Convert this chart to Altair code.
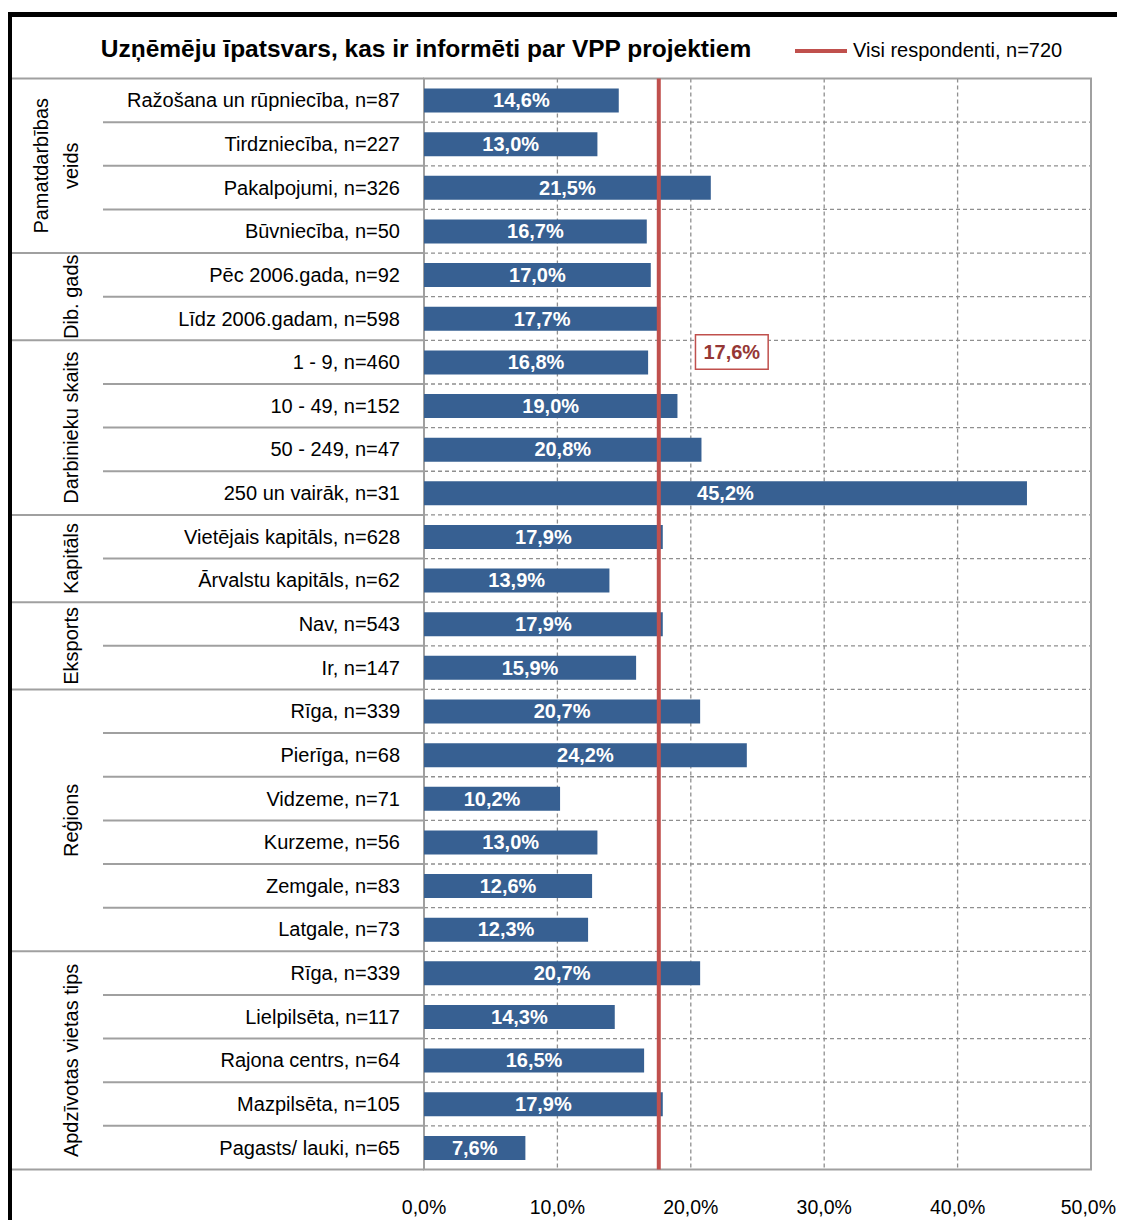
import altair as alt
import pandas as pd

title_text = "Uzņēmēju īpatsvars, kas ir informēti par VPP projektiem"
legend_text = "Visi respondenti, n=720"

groups = ["Pamatdarbības\nveids", "Dib. gads", "Darbinieku skaits", "Kapitāls",
          "Eksports", "Reģions", "Apdzīvotas vietas tips"]
group_sizes = [4, 2, 4, 2, 2, 6, 5]

categories = [
    "Ražošana un rūpniecība, n=87", "Tirdzniecība, n=227", "Pakalpojumi, n=326",
    "Būvniecība, n=50", "Pēc 2006.gada, n=92", "Līdz 2006.gadam, n=598",
    "1 - 9, n=460", "10 - 49, n=152", "50 - 249, n=47", "250 un vairāk, n=31",
    "Vietējais kapitāls, n=628", "Ārvalstu kapitāls, n=62", "Nav, n=543",
    "Ir, n=147", "Rīga, n=339", "Pierīga, n=68", "Vidzeme, n=71",
    "Kurzeme, n=56", "Zemgale, n=83", "Latgale, n=73", "Rīga, n=339",
    "Lielpilsēta, n=117", "Rajona centrs, n=64", "Mazpilsēta, n=105",
    "Pagasts/ lauki, n=65",
]
values = [14.6, 13.0, 21.5, 16.7, 17.0, 17.7, 16.8, 19.0, 20.8, 45.2, 17.9, 13.9,
          17.9, 15.9, 20.7, 24.2, 10.2, 13.0, 12.6, 12.3, 20.7, 14.3, 16.5, 17.9, 7.6]
average = 17.6
x_ticks = [0, 10, 20, 30, 40, 50]

FONT = "Liberation Sans, Arial, sans-serif"
BAR = "#376092"
RED = "#C0504D"
GRID = "#8f8f8f"
LINE = "#a0a0a0"

n = len(categories)
W, H = 1109, 1212
xs = alt.Scale(domain=[0, 50], range=[416, 1083], nice=False, zero=False)
ys = alt.Scale(domain=[0, n], range=[70.5, 70.5 + n * 43.64], nice=False, zero=False)


def X(f):
    return alt.X(f, type="quantitative", scale=xs, axis=None)


def Y(f):
    return alt.Y(f, type="quantitative", scale=ys, axis=None)


rows = pd.DataFrame({"row": list(range(n)), "category": categories, "value": values})

starts = []
s = 0
for g in group_sizes:
    starts.append(s)
    s += g
gdf = pd.DataFrame({"group": groups, "start": starts, "size": group_sizes})
group_bounds = starts + [n]
inner_bounds = [b for b in range(1, n) if b not in group_bounds]

ticks_df = pd.DataFrame({"v": x_ticks})
bounds_df = pd.DataFrame({"b": list(range(1, n))})
inner_df = pd.DataFrame({"b": inner_bounds})
gb_df = pd.DataFrame({"b": group_bounds})
avg_df = pd.DataFrame({"avg": [average]})
one = pd.DataFrame({"k": [0]})

vgrid = alt.Chart(ticks_df).transform_filter("datum.v > 0 && datum.v < 50").transform_calculate(
    y0="0", y1=str(n)).mark_rule(color=GRID, strokeDash=[4, 3], strokeWidth=1.3).encode(
    x=X("v"), y=Y("y0"), y2=alt.Y2("y1"))

hgrid = alt.Chart(bounds_df).transform_calculate(x0="0", x1="50").mark_rule(
    color=GRID, strokeDash=[4, 3], strokeWidth=1.3).encode(
    x=X("x0"), x2=alt.X2("x1"), y=Y("b"))

inner_lines = alt.Chart(inner_df).mark_rule(color=LINE, strokeWidth=2).encode(
    x=alt.value(95), x2=alt.value(416), y=Y("b"))

group_lines = alt.Chart(gb_df).mark_rule(color=LINE, strokeWidth=2).encode(
    x=alt.value(4), x2=alt.value(416), y=Y("b"))

border = alt.Chart(one).transform_calculate(x0="0", x1="50", y0="0", y1=str(n)).mark_rect(
    fill=None, stroke=LINE, strokeWidth=2).encode(
    x=X("x0"), x2=alt.X2("x1"), y=Y("y0"), y2=alt.Y2("y1"))

bars = alt.Chart(rows).transform_calculate(
    x0="0", ya="datum.row + 0.23", yb="datum.row + 0.78").mark_rect(color=BAR).encode(
    x=X("x0"), x2=alt.X2("value"), y=Y("ya"), y2=alt.Y2("yb"))

bar_labels = alt.Chart(rows).transform_calculate(
    xm="datum.value / 2", ym="datum.row + 0.5",
    lbl="replace(format(datum.value, '.1f'), '.', ',') + '%'").mark_text(
    color="white", font=FONT, fontSize=20, fontWeight="bold", baseline="middle", dy=1).encode(
    x=X("xm"), y=Y("ym"), text="lbl:N")

avg_line = alt.Chart(avg_df).transform_calculate(y0="0", y1=str(n)).mark_rule(
    color=RED, strokeWidth=4).encode(x=X("avg"), y=Y("y0"), y2=alt.Y2("y1"))

avg_box = alt.Chart(avg_df).transform_calculate(
    xa="datum.avg + 2.75", xb="datum.avg + 8.2", ya="5.87", yb="6.66").mark_rect(
    fill="white", stroke=RED, strokeWidth=1.5).encode(
    x=X("xa"), x2=alt.X2("xb"), y=Y("ya"), y2=alt.Y2("yb"))

avg_text = alt.Chart(avg_df).transform_calculate(
    xm="datum.avg + 5.47", ym="6.27",
    lbl="replace(format(datum.avg, '.1f'), '.', ',') + '%'").mark_text(
    color="#953735", font=FONT, fontSize=20, fontWeight="bold", baseline="middle", dy=1).encode(
    x=X("xm"), y=Y("ym"), text="lbl:N")

cat_labels = alt.Chart(rows).transform_calculate(ym="datum.row + 0.5").mark_text(
    font=FONT, fontSize=20, align="right", baseline="middle", color="black", dy=1).encode(
    x=alt.value(392), y=Y("ym"), text="category:N")

group_labels_single = alt.Chart(gdf).transform_filter(
    "indexof(datum.group, '\\n') < 0").transform_calculate(
    ym="datum.start + datum.size / 2").mark_text(
    font=FONT, fontSize=20, angle=270, align="center", baseline="bottom", color="black").encode(
    x=alt.value(74), y=Y("ym"), text="group:N")

group_labels_multi = alt.Chart(gdf).transform_filter(
    "indexof(datum.group, '\\n') >= 0").transform_calculate(
    ym="datum.start + datum.size / 2").mark_text(
    font=FONT, fontSize=20, angle=270, align="center", baseline="bottom", color="black",
    lineBreak="\n", lineHeight=30).encode(
    x=alt.value(44), y=Y("ym"), text="group:N")

tick_base = alt.Chart(ticks_df).transform_calculate(
    ym=str(n) + " + 0.88",
    lbl="replace(format(datum.v, '.1f'), '.', ',') + '%'")

tick_labels = tick_base.transform_filter("datum.v < 50").mark_text(
    font=FONT, fontSize=19.5, align="center", baseline="middle", color="black").encode(
    x=X("v"), y=Y("ym"), text="lbl:N")

tick_last = tick_base.transform_filter("datum.v >= 50").mark_text(
    font=FONT, fontSize=19.5, align="right", baseline="middle", color="black", dx=25).encode(
    x=X("v"), y=Y("ym"), text="lbl:N")

title = alt.Chart(pd.DataFrame({"t": [title_text]})).mark_text(
    font=FONT, fontSize=24.5, fontWeight="bold", align="center", baseline="middle",
    color="black").encode(x=alt.value(418), y=alt.value(42), text="t:N")

legend_line = alt.Chart(one).mark_rule(color=RED, strokeWidth=4).encode(
    x=alt.value(787), x2=alt.value(839), y=alt.value(43))

legend_label = alt.Chart(pd.DataFrame({"t": [legend_text]})).mark_text(
    font=FONT, fontSize=20, align="left", baseline="middle", color="black").encode(
    x=alt.value(845), y=alt.value(43), text="t:N")

frame_left = alt.Chart(one).mark_rule(color="black", strokeWidth=5).encode(
    x=alt.value(1.5), y=alt.value(4), y2=alt.value(H))

frame_top = alt.Chart(one).mark_rule(color="black", strokeWidth=5).encode(
    x=alt.value(0), x2=alt.value(W), y=alt.value(6.5))

chart = alt.layer(
    vgrid, hgrid, inner_lines, group_lines, border, bars, avg_line, bar_labels,
    avg_box, avg_text, cat_labels, group_labels_single, group_labels_multi,
    tick_labels, tick_last, title, legend_line, legend_label, frame_left, frame_top,
).properties(
    width=W, height=H, autosize=alt.AutoSizeParams(type="none"), padding=0,
    background="white",
).configure_view(stroke=None)

chart.save("out.html", embed_options={"renderer": "svg", "actions": False})
